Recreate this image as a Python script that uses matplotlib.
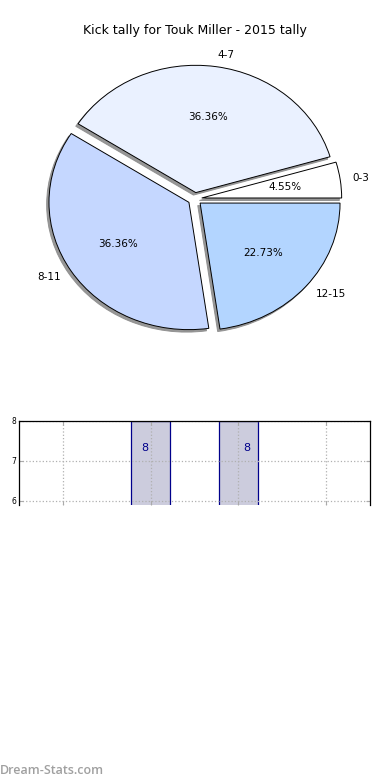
import matplotlib
matplotlib.use("Agg")
import matplotlib.pyplot as plt

# data
categories = ["0-3", "4-7", "8-11", "12-15"]
kicks = [1, 8, 8, 5]
pie_colors = ["#ffffff", "#eaf1ff", "#c5d7ff", "#b3d5ff"]
title = "Kick tally for Touk Miller - 2015 tally"

fig = plt.figure(figsize=(3.9, 7.8), dpi=100)

# pie (not equal aspect, like the old output)
ax = fig.add_axes([0.051, 0.541, 0.897, 0.408])
wedges, texts, autotexts = ax.pie(kicks, labels=categories, colors=pie_colors,
                                  explode=[0.05] * len(kicks), labeldistance=1.09,
                                  shadow={"ox": -0.012, "oy": -0.014,
                                          "facecolor": "#8c8c8c", "edgecolor": "#8c8c8c",
                                          "alpha": 0.9},
                                  autopct="%.2f%%", startangle=0,
                                  wedgeprops={"edgecolor": "black", "linewidth": 0.7},
                                  textprops={"fontsize": 7.5})
ax.set_aspect("auto")
ax.set_xlim(-1.25, 1.25)
ax.set_ylim(-1.25, 1.25)
ax.set_title(title, fontsize=9, pad=4.5)

# bar chart, only its top part survives in the picture
bx = fig.add_axes([0.049, 1 - 505 / 780, 0.9, 84 / 780])
x = list(range(len(categories)))
bx.bar(x, kicks, width=0.45, color="#ccccdd", edgecolor="#00008b", linewidth=0.9)
label_dx = [0, -0.07, 0.09, 0]
for i, v in enumerate(kicks):
    if v > 6:
        bx.text(i + label_dx[i], v - 0.68, str(v), color="#00008b",
                ha="center", va="center", fontsize=8)
bx.set_xlim(-0.5, 3.5)
bx.set_ylim(5.9, 8)
bx.set_xticks(x)
bx.set_xticklabels([])
bx.set_yticks([6, 7, 8])
bx.tick_params(axis="both", direction="in", top=True, right=True, labelsize=5.5,
               length=3, color="#aaaaaa", pad=2)
bx.grid(True, linestyle=":", color="#b0b0b0", linewidth=0.9)
bx.set_axisbelow(False)
bx.spines["bottom"].set_visible(False)
for s in ["top", "left", "right"]:
    bx.spines[s].set_linewidth(0.9)
    bx.spines[s].set_zorder(5)

fig.text(0.0, 1 - 771 / 780, "Dream-Stats.com", fontsize=9, color="#a0a0a0",
         family="Open Sans", fontweight="semibold", va="center", ha="left")

fig.savefig("out.png", dpi=100)
